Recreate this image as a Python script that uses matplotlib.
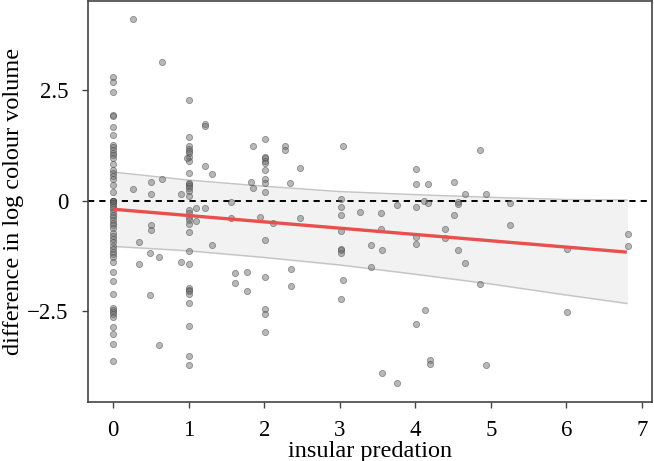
import matplotlib
matplotlib.use('Agg')
import matplotlib.pyplot as plt
import numpy as np

# points sitting on whole-number predation scores
y_at_0 = [2.79, 2.68, 2.46, 1.95, 1.91, 1.66, 1.50, 1.27, 1.21, 1.15, 1.09,
          1.03, 0.97, 0.84, 0.69, 0.64, 0.57, 0.50, 0.35, 0.19, 0.0, 0.0,
          0.0, 0.0, -0.04, -0.09, -0.13, -0.19, -0.25, -0.31, -0.37, -0.43,
          -0.49, -0.55, -0.61, -0.73, -0.79, -0.87, -0.93, -1.03, -1.09,
          -1.15, -1.21, -1.27, -1.38, -1.61, -1.82, -2.11, -2.43, -2.47,
          -2.51, -2.56, -2.63, -2.86, -3.02, -3.23, -3.63]
y_at_1 = [2.29, 1.45, 1.23, 1.18, 1.12, 1.08, 0.99, 0.91, 0.63, 0.41, 0.38,
          0.34, 0.28, 0.23, 0.11, -0.20, -0.28, -0.36, -0.44, -0.52, -0.71,
          -1.13, -1.43, -1.98, -2.01, -2.05, -2.11, -2.32, -2.83, -3.51, -3.71]
y_at_2 = [1.41, 1.00, 0.96, 0.91, 0.85, 0.69, 0.49, 0.40, 0.21, -0.88,
          -1.73, -2.45, -2.56, -2.97]
y_at_3 = [0.05, -0.15, -0.31, -0.69, -1.09, -1.12, -1.17, -2.23]
y_at_4 = [0.72, 0.37, -0.15, -0.82, -0.97, -2.79]

# the remaining scattered points
other_x = [0.26, 0.26, 0.34, 0.34, 0.50, 0.50, 0.50, 0.50, 0.49, 0.49,
           0.64, 0.64, 0.61, 0.61, 0.90, 0.90, 0.98, 1.09, 1.09, 1.22,
           1.22, 1.22, 1.22, 1.31, 1.31, 1.56, 1.56, 1.61, 1.61, 1.77,
           1.77, 1.82, 1.85, 1.85, 1.95, 2.12, 2.28, 2.28, 2.34, 2.35,
           2.35, 2.47, 2.47, 3.04, 3.04, 3.27, 3.41, 3.41, 3.54, 3.54,
           3.56, 3.56, 3.76, 3.76, 4.12, 4.13, 4.17, 4.17, 4.20, 4.20,
           4.39, 4.39, 4.51, 4.51, 4.56, 4.56, 4.56, 4.66, 4.66, 4.86,
           4.86, 4.93, 4.93, 5.25, 5.25, 6.01, 6.01, 6.82, 6.82]
other_y = [4.12, 0.26, -0.93, -1.42, 0.43, 0.15, -0.54, -0.67, -1.17, -2.13,
           3.14, 0.50, -1.28, -3.27, 0.15, -1.38, 0.98, -0.17, -0.46, 1.74,
           1.70, 0.78, -0.17, 0.61, -1.00, -0.02, -0.39, -1.64, -1.85, -1.60,
           -2.05, 0.43, 1.24, 0.29, -0.36, -0.49, 1.24, 1.15, 0.41, -1.54,
           -1.92, 0.75, -0.38, 1.25, -1.79, -0.25, -1.00, -1.49, -0.27, -0.63,
           -1.11, -3.89, -0.09, -4.13, 0.0, -2.47, 0.37, -0.05, -3.61, -3.70,
           -0.63, -0.83, 0.42, -0.31, -0.02, -0.08, -1.12, 0.15, -1.40, 1.16,
           -1.89, 0.15, -3.72, -0.04, -0.54, -1.09, -2.51, -0.74, -1.02]

# fitted line and its band
fit_x = [0.0, 6.8]
fit_y = [-0.19, -1.16]
band_x = [0.0, 1.0, 2.0, 3.0, 4.0, 5.0, 6.0, 6.8]
band_hi = [0.65, 0.47, 0.33, 0.21, 0.14, 0.08, 0.03, 0.02]
band_lo = [-1.03, -1.13, -1.28, -1.45, -1.66, -1.88, -2.13, -2.32]

plt.rcParams['font.family'] = ['Liberation Serif', 'DejaVu Serif']
plt.rcParams['font.size'] = 16.5

xs = np.concatenate([np.full(len(y_at_0), 0.0), np.full(len(y_at_1), 1.0),
                     np.full(len(y_at_2), 2.01), np.full(len(y_at_3), 3.01),
                     np.full(len(y_at_4), 4.01), other_x])
ys = np.concatenate([y_at_0, y_at_1, y_at_2, y_at_3, y_at_4, other_y])

fig = plt.figure(figsize=(6.54, 4.61), dpi=100)
ax = fig.add_axes([0.1338, 0.128, 0.8639, 0.8698])

ax.fill_between(band_x, band_lo, band_hi, color='#f2f2f2', zorder=1)
ax.plot(band_x, band_hi, color='#c4c4c4', lw=1, zorder=1.5)
ax.plot(band_x, band_lo, color='#c4c4c4', lw=1, zorder=1.5)

ax.axhline(0, color='black', lw=1.4, dashes=(3.2, 2.6), zorder=2)

ax.scatter(xs, ys, s=20, facecolor='0.45', edgecolor='0.25', linewidth=0.6,
           alpha=0.5, zorder=3)

ax.plot(fit_x, fit_y, color='#e8504f', lw=2.4, solid_capstyle='butt', zorder=4)

ax.set_xlim(-0.34, 7.14)
ax.set_ylim(-4.55, 4.52)
ax.set_xticks(range(8))
ax.set_yticks([-2.5, 0, 2.5])
ax.set_yticklabels(['\u22122.5', '0', '2.5'])
ax.tick_params(length=4, width=1, color='#444444')
ax.tick_params(axis='x', pad=9)
ax.tick_params(axis='y', pad=10)

for sp in ax.spines.values():
    sp.set_color('#444444')
    sp.set_linewidth(1.2)

ax.set_xlabel('insular predation', fontsize=17.5, labelpad=0)
ax.set_ylabel('difference in log colour volume', fontsize=17.5)
# place the y label so it sits just inside the left edge
ax.yaxis.set_label_coords(-0.112, 0.5)

plt.savefig('out.png', dpi=100)
